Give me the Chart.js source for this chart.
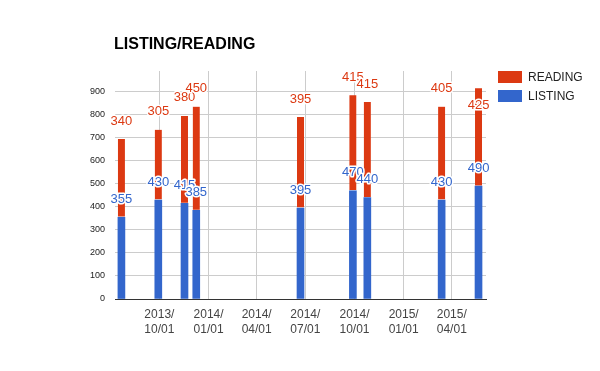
<!DOCTYPE html>
<html>
<head>
<meta charset="utf-8">
<style>
  html, body { margin: 0; padding: 0; background: #fff; }
  #wrap { width: 600px; height: 371px; }
</style>
<script src="https://cdn.jsdelivr.net/npm/chart.js@4"></script>
</head>
<body>
<div id="wrap"><canvas id="chart" width="600" height="371"></canvas></div>
<script>
// Data
const dates = ['2013-07-22', '2013-09-29', '2013-11-17', '2013-12-09', '2014-06-22',
               '2014-09-28', '2014-10-25', '2015-03-13', '2015-05-21'];
const listing = [355, 430, 415, 385, 395, 470, 440, 430, 490];
const reading = [340, 305, 380, 450, 395, 415, 415, 405, 425];
const quarterTicks = ['2013-10-01', '2014-01-01', '2014-04-01', '2014-07-01',
                      '2014-10-01', '2015-01-01', '2015-04-01'];
const yTicks = [0, 100, 200, 300, 400, 500, 600, 700, 800, 900];
const xRange = ['2013-07-10', '2015-06-04'];
const yMax = 990;

const FONT = "'Liberation Sans', Arial, sans-serif";
const RED = '#dc3912';
const BLUE = '#3366cc';

// dates as day numbers (no date adapter available, so use a linear axis)
function toDay(s) {
    const p = s.split('-').map(Number);
    return Date.UTC(p[0], p[1] - 1, p[2]) / 86400000;
}
function fmtDay(d) {
    const dt = new Date(d * 86400000);
    const m = String(dt.getUTCMonth() + 1).padStart(2, '0');
    const dd = String(dt.getUTCDate()).padStart(2, '0');
    return [dt.getUTCFullYear() + '/', m + '/' + dd];
}

const days = dates.map(toDay);

// Title, legend and value labels drawn on the canvas
const extrasPlugin = {
    id: 'extras',
    afterDatasetsDraw(chart) {
        const ctx = chart.ctx;
        const area = chart.chartArea;
        ctx.save();
        ctx.font = '13px ' + FONT;
        ctx.textAlign = 'center';
        ctx.textBaseline = 'middle';
        ctx.lineJoin = 'round';
        chart.data.datasets.forEach((ds, i) => {
            const meta = chart.getDatasetMeta(i);
            meta.data.forEach((bar, j) => {
                let y = bar.y - 18;
                if (y - 6 < area.top - 2) y = bar.y + 17;
                const txt = String(ds.data[j].y);
                ctx.strokeStyle = '#fff';
                ctx.lineWidth = 3;
                ctx.strokeText(txt, bar.x, y);
                ctx.fillStyle = ds.backgroundColor;
                ctx.fillText(txt, bar.x, y);
            });
        });
        ctx.restore();
    },
    afterDraw(chart) {
        const ctx = chart.ctx;
        ctx.save();
        // title
        ctx.font = 'bold 16px ' + FONT;
        ctx.fillStyle = '#000';
        ctx.textAlign = 'left';
        ctx.textBaseline = 'alphabetic';
        ctx.fillText('LISTING/READING', 114, 49);
        // legend
        const items = [['READING', RED, 71], ['LISTING', BLUE, 90]];
        ctx.font = '12px ' + FONT;
        ctx.textBaseline = 'middle';
        items.forEach(([label, color, y]) => {
            ctx.fillStyle = color;
            ctx.fillRect(498, y, 24, 12);
            ctx.fillStyle = '#222';
            ctx.fillText(label, 528, y + 6.5);
        });
        ctx.restore();
    }
};

const ctx = document.getElementById('chart').getContext('2d');
new Chart(ctx, {
    type: 'bar',
    data: {
        datasets: [{
            label: 'LISTING',
            data: days.map((d, i) => ({ x: d, y: listing[i] })),
            backgroundColor: BLUE,
            borderWidth: 0,
        }, {
            label: 'READING',
            data: days.map((d, i) => ({ x: d, y: reading[i] })),
            backgroundColor: RED,
            borderColor: '#ffffff',
            borderWidth: { top: 0, left: 0, right: 0, bottom: 1 },
            borderSkipped: false,
        }]
    },
    options: {
        responsive: false,
        animation: false,
        barThickness: 7,
        layout: {
            padding: { left: 0, right: 114, top: 71, bottom: 0 },
        },
        plugins: {
            legend: { display: false },
            title: { display: false },
            tooltip: { enabled: false },
        },
        scales: {
            x: {
                type: 'linear',
                stacked: true,
                offset: false,
                min: toDay(xRange[0]),
                max: toDay(xRange[1]),
                afterBuildTicks: (scale) => {
                    scale.ticks = quarterTicks.map(s => ({ value: toDay(s) }));
                },
                afterFit: (scale) => { scale.height = 72; },
                ticks: {
                    autoSkip: false,
                    maxRotation: 0,
                    padding: 8,
                    color: '#444',
                    font: { family: FONT, size: 12, lineHeight: 1.25 },
                    callback: (v) => fmtDay(v),
                },
                grid: {
                    offset: false,
                    color: '#cccccc',
                    drawTicks: false,
                },
                border: { display: true, color: '#333333', width: 1 },
            },
            y: {
                stacked: true,
                min: 0,
                max: yMax,
                afterBuildTicks: (scale) => {
                    scale.ticks = yTicks.map(v => ({ value: v }));
                },
                afterFit: (scale) => { scale.width = 115; },
                ticks: {
                    autoSkip: false,
                    padding: 10,
                    color: '#222',
                    font: { family: FONT, size: 9 },
                    callback: (v) => String(v),
                },
                grid: {
                    color: (c) => c.tick && c.tick.value === 0 ? '#333333' : '#cccccc',
                    drawTicks: false,
                },
                border: { display: false },
            },
        },
    },
    plugins: [extrasPlugin],
});
</script>
</body>
</html>
